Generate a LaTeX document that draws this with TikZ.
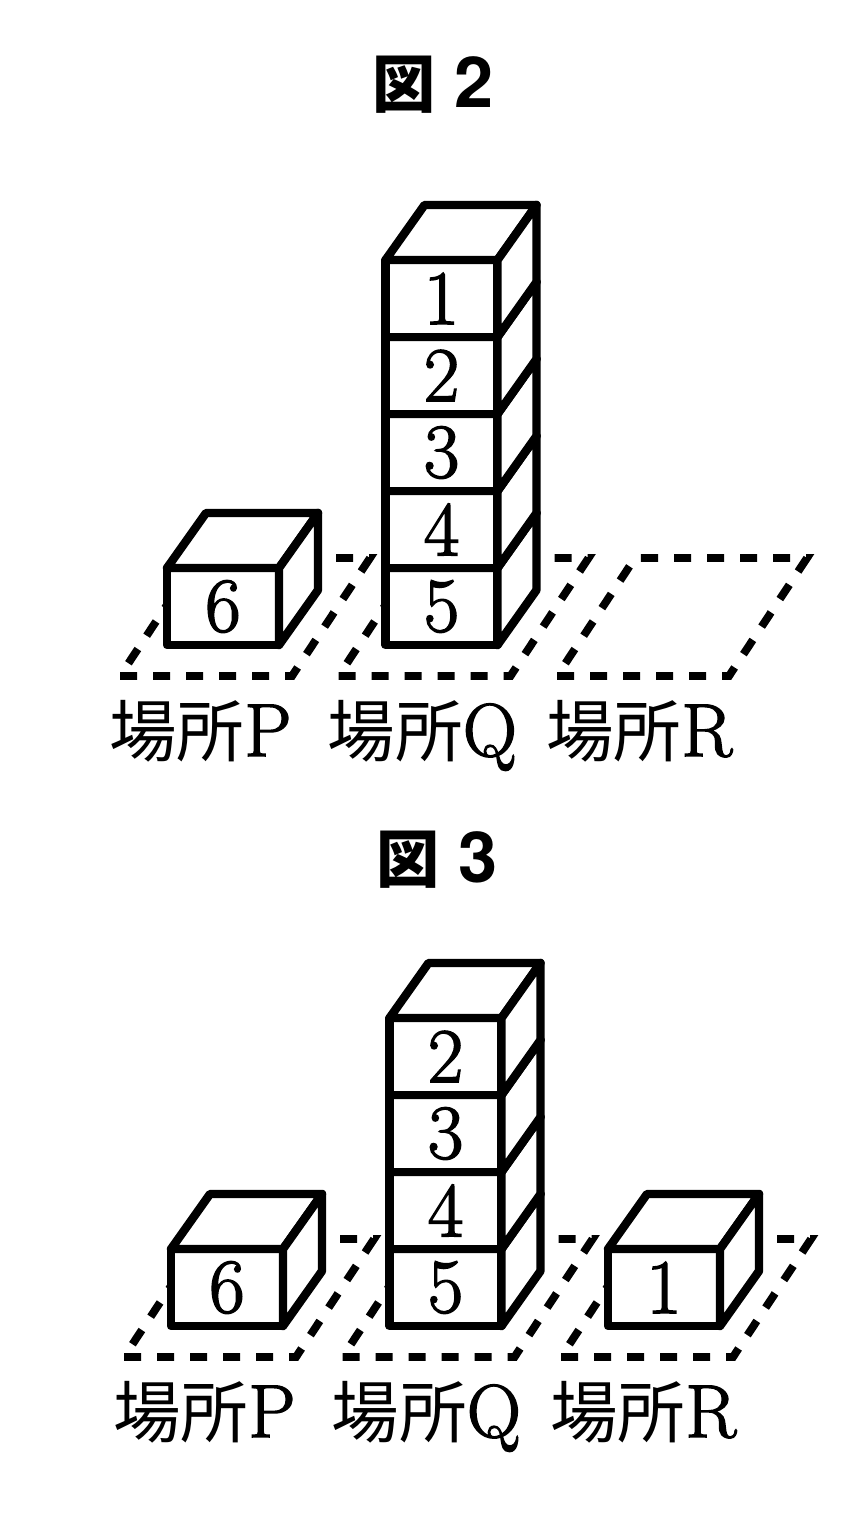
\documentclass[tikz,border=0pt]{standalone}
\usepackage{fontspec}
\newfontfamily\cjk[Scale=0.9]{Noto Sans CJK JP}
\newfontfamily\headfont{TeX Gyre Heros}
\newfontfamily\numfont[FakeBold=2]{Latin Modern Roman}

\tikzset{
  edge/.style={line width=4.8pt, line join=round, fill=white},
  floor/.style={line width=4.5pt, dash pattern=on 9.7pt off 9.1pt},
  num/.style={inner sep=0pt, font=\fontsize{44pt}{46pt}\selectfont\numfont},
  place/.style={anchor=base west, inner sep=0pt, font=\fontsize{42.7pt}{44pt}\selectfont\numfont},
  head/.style={anchor=base, inner sep=0pt, font=\fontsize{40pt}{42pt}\selectfont\headfont\bfseries},
}

% one block, front bottom left corner at (#1,#2)
\newcommand{\blockcube}[4]{%
  \filldraw[edge] (#1,#2) rectangle ++(112,-77);
  \filldraw[edge] (#1,#2-77) -- ++(39,-55) -- ++(112,0) -- ++(-39,55) -- cycle;
  \filldraw[edge] (#1+112,#2) -- ++(0,-77) -- ++(39,-55) -- ++(0,77) -- cycle;
  \node[num] (#3) at (#1+56,#2-38.5) {#4};
}

\begin{document}
\begin{tikzpicture}[x=0.02cm, y=-0.02cm]
    \useasboundingbox (0,0) rectangle (865,1536);

    % titles
    \node[head] (fig2) at (433,107) {{\cjk 図} 2};
    \node[head] (fig3) at (437,882) {{\cjk 図} 3};

    % places on the floor
    \foreach \fx/\fy/\fig in {0/0/a, 4/681/b} {
        \foreach \px/\pname in {120/P, 338.5/Q, 557/R} {
            \draw[floor] (\px+\fx,676+\fy) -- ++(172,0) -- ++(78,-118) -- ++(-172,0) -- cycle;
            \node[place] (\fig\pname) at (\px+\fx-11,756+\fy) {{\cjk 場所}\pname};
        }
    }

    % figure 2
    \blockcube{167}{645}{a6}{6}
    \foreach \n [count=\i from 0] in {5,4,3,2,1} {
        \blockcube{385.5}{645-77*\i}{a\n}{\n}
    }

    % figure 3
    \blockcube{171}{1326}{b6}{6}
    \foreach \n [count=\i from 0] in {5,4,3,2} {
        \blockcube{389.5}{1326-77*\i}{b\n}{\n}
    }
    \blockcube{608}{1326}{b1}{1}
\end{tikzpicture}
\end{document}
